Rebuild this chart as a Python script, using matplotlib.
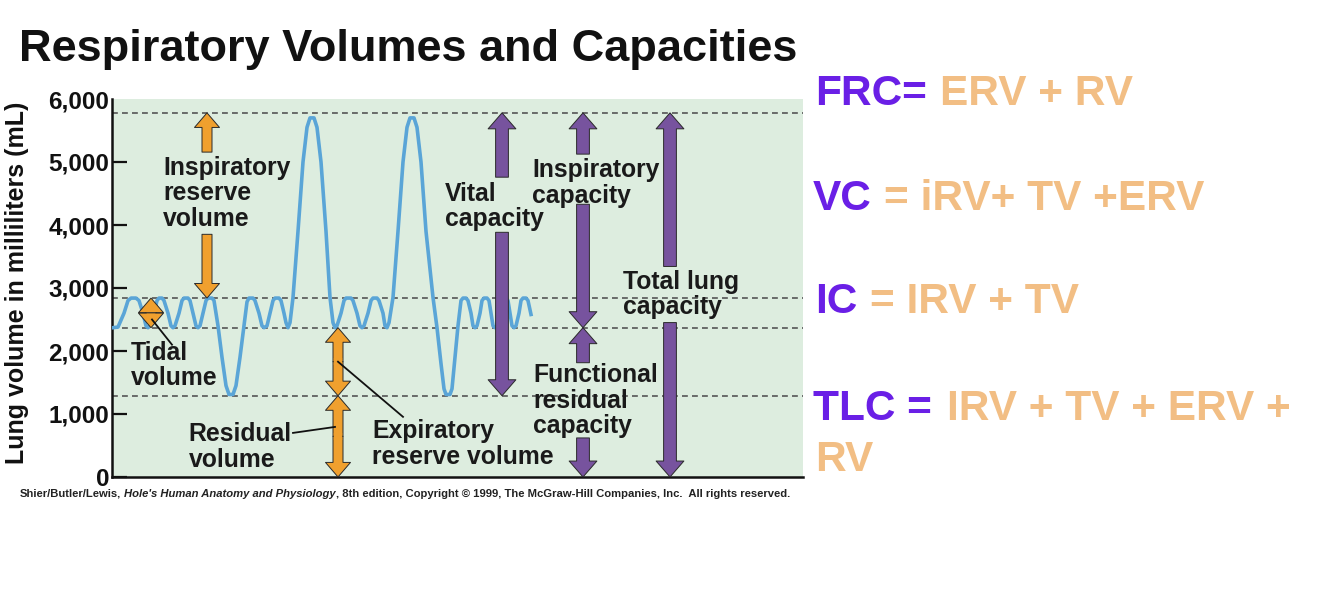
import matplotlib.pyplot as plt
from matplotlib.offsetbox import TextArea, HPacker, AnnotationBbox

plt.rcParams['font.family'] = ['Liberation Sans', 'DejaVu Sans']
plt.rcParams['font.weight'] = 'bold'

# lung volume trace: time (arbitrary units) and volume (mL)
trace_t = [1, 6, 12, 16, 19, 24, 27, 31, 34, 36, 38, 42, 45, 47, 50, 52, 56, 59, 61, 63,
           67, 70, 72, 76, 78, 81, 84, 86, 88, 91, 94, 96, 100, 102, 106, 110, 114, 117, 121, 124,
           128, 132, 135, 137, 141, 143, 147, 150, 152, 155, 158, 161, 163, 167, 169, 172, 174, 176, 178,
           181, 186, 191, 195, 198, 202, 205, 209, 214, 218, 221, 223, 225, 229, 232, 234, 239, 241,
           245, 248, 250, 252, 256, 259, 261, 265, 267, 271, 273, 275, 277, 281, 286, 291, 295, 298,
           302, 305, 309, 314, 321, 325, 329, 332, 334, 338, 340, 343, 346, 349, 351, 354, 356, 359,
           361, 363, 365, 368, 370, 372, 375, 377, 379, 381, 383, 385, 387, 389, 391, 394, 396, 398,
           400, 402, 404, 407, 409, 411, 414, 416, 418, 419]
trace_v = [2370, 2380, 2600, 2800, 2840, 2840, 2800, 2600, 2400, 2370, 2400, 2600, 2800, 2840, 2840, 2800, 2600, 2400, 2370, 2400,
           2600, 2800, 2840, 2840, 2800, 2600, 2400, 2370, 2400, 2600, 2800, 2840, 2840, 2800, 2400, 1900, 1450, 1310, 1310, 1450,
           1900, 2400, 2780, 2840, 2840, 2800, 2600, 2400, 2370, 2400, 2600, 2800, 2840, 2840, 2800, 2600, 2450, 2370, 2450,
           2850, 3900, 5000, 5550, 5700, 5700, 5550, 5000, 3900, 2850, 2450, 2370, 2400, 2600, 2800, 2840, 2840, 2800,
           2600, 2400, 2370, 2400, 2600, 2800, 2840, 2840, 2800, 2600, 2400, 2370, 2450, 2850, 3900, 5000, 5550, 5700,
           5700, 5550, 5000, 3900, 2850, 2370, 1800, 1400, 1310, 1310, 1400, 1900, 2400, 2800, 2840, 2840, 2800, 2600,
           2400, 2370, 2400, 2600, 2800, 2840, 2840, 2800, 2600, 2400, 2370, 2400, 2600, 2800, 2840, 2840, 2800,
           2600, 2400, 2370, 2400, 2600, 2800, 2840, 2840, 2800, 2650, 2580]

# reference levels (mL): max inspiration, end tidal inspiration, end tidal expiration, residual volume
levels = [5780, 2840, 2370, 1290]
ytick_vals = [0, 1000, 2000, 3000, 4000, 5000, 6000]
ytick_labels = ['0', '1,000', '2,000', '3,000', '4,000', '5,000', '6,000']

# arrow spans (mL): (start, end) with the head at the end
irv_spans = [(5157, 5780), (3852, 2840)]
tidal_span = (2370, 2840)
erv_span = (1290, 2370)
rv_span = (0, 1290)
vc_spans = [(4759, 5780), (3884, 1290)]
ic_spans = [(5125, 5780), (4329, 2370)]
frc_spans = [(1814, 2370), (620, 0)]
tlc_spans = [(3342, 5780), (2451, 0)]

ORANGE = '#F0A02E'
PURPLE = '#77539E'
BLUE = '#5AA5D7'
EQ_PURPLE = '#6A1FE6'
EQ_ORANGE = '#F2BE84'

fig = plt.figure(figsize=(13.34, 5.89), dpi=100)
ax = fig.add_axes([112 / 1334, 1 - 477 / 589, 691 / 1334, 378 / 589])
ax.set_facecolor('#DDEDDF')
ax.set_xlim(0, 691)
ax.set_ylim(0, 6000)

for lv in levels:
    ax.axhline(lv, color='#555555', lw=1.2, ls=(0, (3.5, 2.5)), zorder=2)

ax.plot(trace_t, trace_v, color=BLUE, lw=2.6, solid_joinstyle='round', zorder=3)


def arrow(x, y0, y1, color, tail, head_w, head_l):
    style = f'simple,tail_width={tail},head_width={head_w},head_length={head_l}'
    ax.annotate('', xy=(x, y1), xytext=(x, y0),
                arrowprops=dict(arrowstyle=style, fc=color, ec='#2a2a2a', lw=0.7,
                                shrinkA=0, shrinkB=0, mutation_scale=10), zorder=4)


def double_arrow(x, lo, hi, color, tail, head_w, head_l, filler=True):
    mid = (lo + hi) / 2
    arrow(x, mid, hi, color, tail, head_w, head_l)
    arrow(x, mid, lo, color, tail, head_w, head_l)
    if filler:
        ax.plot([x, x], [mid - 60, mid + 60], color=color, lw=tail * 10 - 1.2,
                solid_capstyle='butt', zorder=4.5)


o_style = dict(tail=0.72, head_w=1.8, head_l=1.05)
p_style = dict(tail=0.92, head_w=2.0, head_l=1.15)

for s in irv_spans:
    arrow(95, s[0], s[1], ORANGE, **o_style)
double_arrow(39, tidal_span[0], tidal_span[1], ORANGE, filler=False, **o_style)
double_arrow(226, erv_span[0], erv_span[1], ORANGE, **o_style)
double_arrow(226, rv_span[0], rv_span[1], ORANGE, **o_style)
for s in vc_spans:
    arrow(390, s[0], s[1], PURPLE, **p_style)
for s in ic_spans:
    arrow(471, s[0], s[1], PURPLE, **p_style)
for s in frc_spans:
    arrow(471, s[0], s[1], PURPLE, **p_style)
for s in tlc_spans:
    arrow(558, s[0], s[1], PURPLE, **p_style)

# leader lines
ax.plot([40, 60], [2500, 2100], color='#111111', lw=1.3, zorder=5)
ax.plot([181, 223], [700, 795], color='#111111', lw=1.3, zorder=5)
ax.plot([226, 291], [1830, 955], color='#111111', lw=1.3, zorder=5)

lab = dict(fontsize=17.8, fontweight='bold', color='#1a1a1a', linespacing=1.08, zorder=6, va='center')
ax.text(51, 4504, 'Inspiratory\nreserve\nvolume', ha='left', **lab)
ax.text(19, 1767, 'Tidal\nvolume', ha='left', **lab)
ax.text(128, 477, 'Residual\nvolume', ha='center', multialignment='left', **lab)
ax.text(260, 525, 'Expiratory\nreserve volume', ha='left', **lab)
ax.text(333, 4297, 'Vital\ncapacity', ha='left', **lab)
ax.text(420, 4663, 'Inspiratory\ncapacity', ha='left', **lab)
ax.text(421, 1210, 'Functional\nresidual\ncapacity', ha='left', **lab)
ax.text(511, 2897, 'Total lung\ncapacity', ha='left', **lab)

for side in ['top', 'right']:
    ax.spines[side].set_visible(False)
for side in ['left', 'bottom']:
    ax.spines[side].set_linewidth(1.8)
    ax.spines[side].set_color('#111111')
ax.set_xticks([])
ax.set_yticks(ytick_vals)
ax.set_yticklabels(ytick_labels)
ax.tick_params(axis='y', direction='in', length=11, width=1.6, pad=2, labelsize=17.5, colors='#111111')
ax.yaxis.get_major_ticks()[-1].tick1line.set_visible(False)
for t in ax.get_yticklabels():
    t.set_fontweight('bold')

fig.text(17 / 1334, 1 - 283 / 589, 'Lung volume in milliliters (mL)', rotation=90,
         ha='center', va='center', fontsize=18, fontweight='bold', color='#111111')
fig.text(408 / 1334, 1 - 50 / 589, 'Respiratory Volumes and Capacities', ha='center', va='center',
         fontsize=32.5, fontweight='bold', color='#111111')


def rich_line(x_px, y_px, runs, size, sep):
    boxes = [TextArea(s, textprops=dict(color=c, fontsize=size, fontweight='bold'))
             for s, c in runs]
    pack = HPacker(children=boxes, align='baseline', pad=0, sep=sep)
    ab = AnnotationBbox(pack, (x_px, 589 - y_px), xycoords='figure pixels',
                        box_alignment=(0, 0.5), frameon=False, pad=0)
    fig.add_artist(ab)


eq_size = 30.5
sp = eq_size * 0.3
rich_line(815, 94, [('FRC=', EQ_PURPLE), ('ERV + RV', EQ_ORANGE)], eq_size, sp)
rich_line(813, 199, [('VC', EQ_PURPLE), ('= iRV+ TV +ERV', EQ_ORANGE)], eq_size, sp)
rich_line(815, 302, [('IC', EQ_PURPLE), ('= IRV + TV', EQ_ORANGE)], eq_size, sp)
rich_line(813, 409, [('TLC =', EQ_PURPLE), ('IRV + TV + ERV +', EQ_ORANGE)], eq_size, sp + 2)
rich_line(815, 460, [('RV', EQ_ORANGE)], eq_size, sp)

# source line with italic book title
src_size = 8.1
a = TextArea('Shier/Butler/Lewis,', textprops=dict(fontsize=src_size, fontweight='bold', color='#222222'))
b = TextArea("Hole's Human Anatomy and Physiology",
             textprops=dict(fontsize=src_size, fontweight='bold', fontstyle='italic', color='#222222'))
c = TextArea(', 8th edition, Copyright \u00a9 1999, The McGraw-Hill Companies, Inc.  All rights reserved.',
             textprops=dict(fontsize=src_size, fontweight='bold', color='#222222'))
inner = HPacker(children=[a, b], align='baseline', pad=0, sep=src_size * 0.278)
src = HPacker(children=[inner, c], align='baseline', pad=0, sep=0)
fig.add_artist(AnnotationBbox(src, (20, 589 - 494), xycoords='figure pixels',
                              box_alignment=(0, 0.5), frameon=False, pad=0))

fig.savefig('out.png', dpi=100, facecolor='white')
